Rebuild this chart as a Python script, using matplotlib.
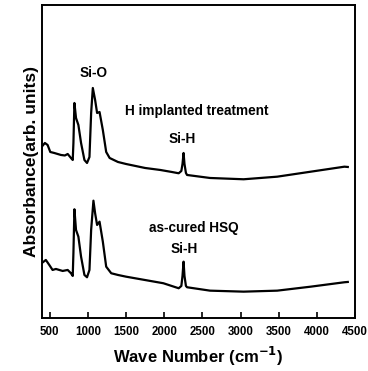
import matplotlib
matplotlib.use("Agg")
import matplotlib.pyplot as plt

# FTIR spectra, values (arbitrary absorbance units)
wn_top = [395, 438, 474, 509, 561, 649, 700, 737, 780, 803, 812, 825, 846, 877,
          912, 956, 990, 1022, 1044, 1066, 1096, 1122, 1154, 1197, 1241, 1286,
          1395, 1500, 1750, 1950, 2100, 2190, 2225, 2240, 2254, 2266, 2285,
          2300, 2600, 3040, 3480, 3920, 4360, 4404]
abs_top = [1.71, 1.75, 1.73, 1.66, 1.65, 1.63, 1.625, 1.64, 1.60, 1.58, 1.75,
           2.15, 2.00, 1.93, 1.75, 1.58, 1.55, 1.61, 2.05, 2.30, 2.18, 2.05,
           2.06, 1.88, 1.66, 1.60, 1.56, 1.54, 1.50, 1.48, 1.46, 1.447, 1.47,
           1.54, 1.65, 1.54, 1.45, 1.43, 1.40, 1.387, 1.413, 1.463, 1.513, 1.51]

wn_bot = [395, 451, 496, 539, 583, 671, 737, 780, 803, 812, 825, 846, 877, 912,
          956, 990, 1022, 1044, 1074, 1096, 1122, 1154, 1197, 1241, 1307, 1395,
          1500, 1990, 2190, 2225, 2240, 2254, 2266, 2285, 2300, 2600, 3040,
          3480, 3920, 4360, 4404]
abs_bot = [0.547, 0.58, 0.53, 0.48, 0.49, 0.47, 0.48, 0.447, 0.42, 0.65, 1.087,
           0.88, 0.813, 0.613, 0.43, 0.407, 0.48, 0.88, 1.173, 1.047, 0.93,
           0.963, 0.763, 0.513, 0.447, 0.43, 0.413, 0.347, 0.297, 0.32, 0.42,
           0.563, 0.42, 0.32, 0.307, 0.273, 0.263, 0.273, 0.313, 0.357, 0.36]

labels = ["Si-O", "H implanted treatment", "Si-H", "as-cured HSQ", "Si-H"]
label_x = [1070, 2430, 2233, 2386, 2267]
label_y = [2.447, 2.07, 1.787, 0.903, 0.687]

plt.rcParams['font.family'] = ['Liberation Sans', 'DejaVu Sans']
plt.rcParams['font.weight'] = 'bold'

fig = plt.figure(figsize=(3.68, 3.71), dpi=100)
ax = fig.add_axes([0.114, 0.143, 0.851, 0.8435])

ax.plot(wn_top, abs_top, color='black', lw=1.6)
ax.plot(wn_bot, abs_bot, color='black', lw=1.6)

for txt, x, y in zip(labels, label_x, label_y):
    ax.text(x, y, txt, ha='center', va='center', fontsize=9.8, fontweight='bold')

ax.set_xlim(400, 4500)
ax.set_ylim(0, 3.13)
ax.set_xticks(range(500, 4501, 500))
ax.set_yticks([])
ax.tick_params(axis='x', direction='in', length=4, width=1.2, labelsize=8.3, pad=6)
for lab in ax.get_xticklabels():
    lab.set_fontweight('bold')
for s in ax.spines.values():
    s.set_linewidth(1.4)

ax.set_xlabel("Wave Number (cm$^{\\mathbf{-1}}$)", fontsize=12, fontweight='bold', labelpad=5)
ax.set_ylabel("Absorbance(arb. units)", fontsize=12.5, fontweight='bold', labelpad=2)

fig.savefig("out.png", dpi=100)
